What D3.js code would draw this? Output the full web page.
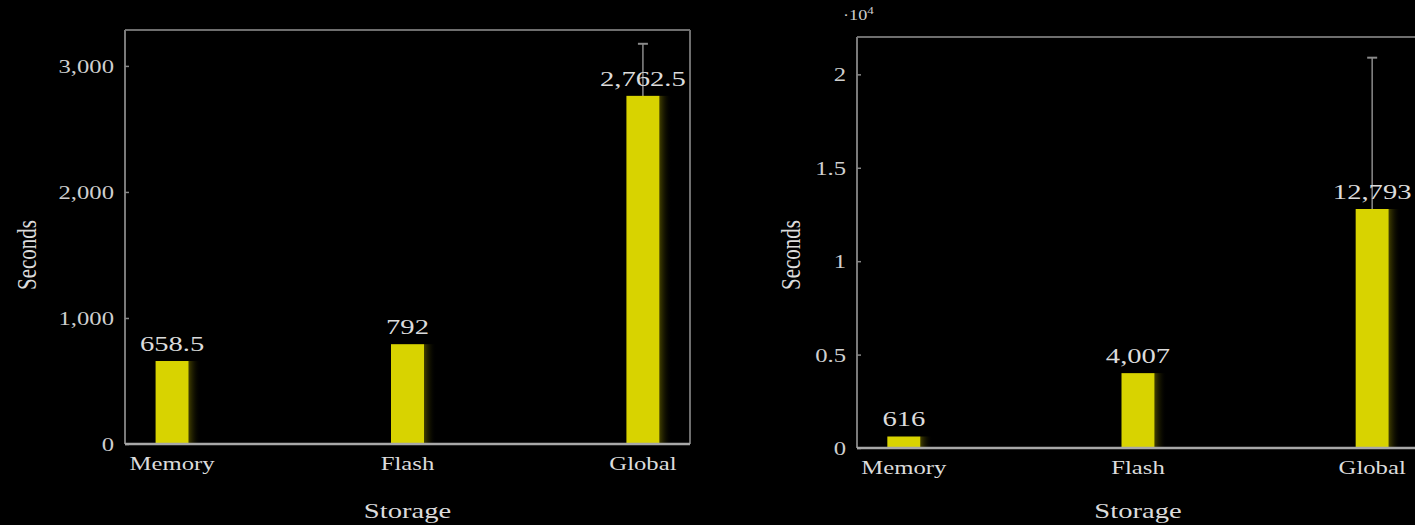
<!DOCTYPE html>
<html>
<head>
<meta charset="utf-8">
<script src="https://cdn.jsdelivr.net/npm/d3@7"></script>
<style>
  html, body { margin: 0; background: #000; }
  svg { display: block; }
</style>
</head>
<body>
<svg id="chart" width="1415" height="525"></svg>
<script>
// Run time per storage back-end (seconds)
const categories = ["Memory", "Flash", "Global"];

// Left panel
const timesLeft = [658.5, 792, 2762.5];
const errorsLeft = [0, 0, 413];
const ticksLeft = [0, 1000, 2000, 3000];

// Right panel (axis labelled in units of 10^4)
const timesRight = [616, 4007, 12793];
const errorsRight = [0, 0, 8100];
const ticksRight = [0, 5000, 10000, 15000, 20000];

const svg = d3.select("#chart");
const SX = 1.3;               // horizontal stretch of the serif lettering
const FONT = "'Liberation Serif', 'DejaVu Serif', serif";
const TEXT = "#dcdcdc";

const defs = svg.append("defs");
const shade = defs.append("linearGradient").attr("id", "barShade")
  .attr("x1", "0%").attr("x2", "100%").attr("y1", "0%").attr("y2", "0%");
shade.append("stop").attr("offset", "0%").attr("stop-color", "#4a4700").attr("stop-opacity", 0.9);
shade.append("stop").attr("offset", "100%").attr("stop-color", "#000").attr("stop-opacity", 0);

function label(g, x, y, str, size, anchor, extra) {
  return g.append("text")
    .attr("transform", `translate(${x},${y}) scale(${SX},1)` + (extra || ""))
    .attr("text-anchor", anchor || "middle")
    .attr("font-family", FONT)
    .attr("font-size", size)
    .attr("fill", TEXT)
    .text(str);
}

function panel(opts) {
  const { left, right, top, bottom, max, values, errors, ticks, tickFmt, titleX, unitLabel } = opts;
  const g = svg.append("g");

  const x = d3.scalePoint().domain(categories).range([left, right]).padding(0.2);
  const y = d3.scaleLinear().domain([0, max]).range([bottom, top]);
  const barW = 33;
  const fmt = d3.format(",");

  // frame
  g.append("line").attr("x1", left).attr("x2", right).attr("y1", top).attr("y2", top)
    .attr("stroke", "#6e6e6e").attr("stroke-width", 2);
  g.append("line").attr("x1", right).attr("x2", right).attr("y1", top).attr("y2", bottom)
    .attr("stroke", "#6e6e6e").attr("stroke-width", 2);
  g.append("line").attr("x1", left).attr("x2", left).attr("y1", top).attr("y2", bottom)
    .attr("stroke", "#7a7a7a").attr("stroke-width", 2);

  // y axis ticks and labels
  const ax = g.append("g").attr("transform", `translate(${left},0)`)
    .call(d3.axisLeft(y).tickValues(ticks).tickSizeInner(-4).tickSizeOuter(0).tickFormat(tickFmt));
  ax.select(".domain").remove();
  ax.selectAll(".tick line").attr("stroke", "#888").attr("stroke-width", 1.5);
  ax.selectAll(".tick text")
    .attr("x", null).attr("dy", "0.34em")
    .attr("transform", `translate(-11,0) scale(${SX},1)`)
    .attr("text-anchor", "end")
    .attr("font-family", FONT).attr("font-size", 19).attr("fill", "#cfcfcf");

  // error bars (upper whisker visible above the bar)
  categories.forEach((c, i) => {
    if (!errors[i]) return;
    const cx = x(c);
    g.append("line").attr("x1", cx).attr("x2", cx)
      .attr("y1", y(values[i] - errors[i])).attr("y2", y(values[i] + errors[i]))
      .attr("stroke", "#8a8a8a").attr("stroke-width", 1.5);
    g.append("line").attr("x1", cx - 5).attr("x2", cx + 5)
      .attr("y1", y(values[i] + errors[i])).attr("y2", y(values[i] + errors[i]))
      .attr("stroke", "#8a8a8a").attr("stroke-width", 2);
  });

  // bars with soft shading on the right edge
  g.selectAll("rect.shade").data(values).join("rect").attr("class", "shade")
    .attr("x", (d, i) => x(categories[i]) + barW / 2)
    .attr("y", d => y(d))
    .attr("width", 12)
    .attr("height", d => bottom - y(d))
    .attr("fill", "url(#barShade)");
  g.selectAll("rect.bar").data(values).join("rect").attr("class", "bar")
    .attr("x", (d, i) => x(categories[i]) - barW / 2)
    .attr("y", d => y(d))
    .attr("width", barW)
    .attr("height", d => bottom - y(d))
    .attr("fill", "#d8d300");

  // value labels
  values.forEach((v, i) => {
    label(g, x(categories[i]), y(v) - 10, fmt(v), 22, "middle");
  });

  // x axis line
  g.append("line").attr("x1", left).attr("x2", right).attr("y1", bottom).attr("y2", bottom)
    .attr("stroke", "#a8a8a8").attr("stroke-width", 2.5);

  // category labels
  categories.forEach(c => label(g, x(c), bottom + 26, c, 19, "middle"));

  // axis titles
  label(g, (left + right) / 2, 518, "Storage", 22, "middle");
  svg.append("text")
    .attr("transform", `translate(${titleX},255) scale(${SX},1) rotate(-90)`)
    .attr("text-anchor", "middle")
    .attr("dominant-baseline", "central")
    .attr("font-family", FONT).attr("font-size", 21).attr("fill", TEXT)
    .text("Seconds");

  if (unitLabel) {
    const t = g.append("text")
      .attr("transform", `translate(${left - 14},20) scale(${SX},1)`)
      .attr("font-family", FONT).attr("font-size", 14).attr("fill", "#cfcfcf");
    t.append("tspan").text("\u00b710");
    t.append("tspan").attr("font-size", 10).attr("dy", -6).text("4");
  }
}

panel({
  left: 125, right: 690, top: 30, bottom: 444, max: 3285,
  values: timesLeft, errors: errorsLeft, ticks: ticksLeft,
  tickFmt: d3.format(","), titleX: 26
});

panel({
  left: 857, right: 1419, top: 37, bottom: 448, max: 22000,
  values: timesRight, errors: errorsRight, ticks: ticksRight,
  tickFmt: d => String(d / 1e4), titleX: 790, unitLabel: true
});
</script>
</body>
</html>
